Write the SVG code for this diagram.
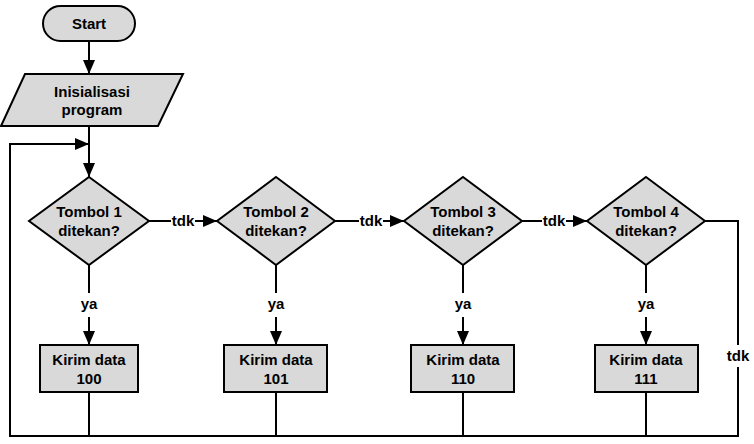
<svg xmlns="http://www.w3.org/2000/svg" width="754" height="444" viewBox="0 0 754 444">
<style>
.s{fill:#d9d9d9;stroke:#000;stroke-width:2}
.c{fill:none;stroke:#000;stroke-width:2}
text{font-family:"Liberation Sans",Arial,sans-serif;font-weight:bold;font-size:15px;fill:#000;text-anchor:middle}
</style>
<defs>
<marker id="a" markerUnits="userSpaceOnUse" markerWidth="14" markerHeight="12" refX="14" refY="6" orient="auto">
<path d="M0,0 L14,6 L0,12 Z" fill="#000"/>
</marker>
</defs>
<rect width="754" height="444" fill="#fff"/>
<g id="connectors">
<path class="c" d="M89,41 V74" marker-end="url(#a)"/>
<path class="c" d="M89,126 V177" marker-end="url(#a)"/>
<path class="c" d="M89,436 H10 V144 H89" marker-end="url(#a)"/>
<path class="c" d="M10,436 H738 V221 H705"/>
<path class="c" d="M148,221 H171"/>
<path class="c" d="M195,221 H217" marker-end="url(#a)"/>
<path class="c" d="M335,221 H359"/>
<path class="c" d="M383,221 H404" marker-end="url(#a)"/>
<path class="c" d="M522,221 H542"/>
<path class="c" d="M566,221 H587" marker-end="url(#a)"/>
<path class="c" d="M89,265 V293"/>
<path class="c" d="M89,317 V345" marker-end="url(#a)"/>
<path class="c" d="M276,265 V293"/>
<path class="c" d="M276,317 V345" marker-end="url(#a)"/>
<path class="c" d="M463,265 V293"/>
<path class="c" d="M463,317 V345" marker-end="url(#a)"/>
<path class="c" d="M646,265 V293"/>
<path class="c" d="M646,317 V345" marker-end="url(#a)"/>
<path class="c" d="M89,392 V436 M276,392 V436 M463,392 V436 M646,392 V436"/>
<rect x="726" y="345" width="24" height="22" fill="#fff"/>
<text x="183" y="226">tdk</text>
<text x="371" y="226">tdk</text>
<text x="554" y="226">tdk</text>
<text x="738" y="361">tdk</text>
<text x="89" y="309">ya</text>
<text x="276" y="309">ya</text>
<text x="463" y="309">ya</text>
<text x="646" y="309">ya</text>
</g>
<g id="start">
<rect class="s" x="43" y="6" width="92" height="35" rx="17.5"/>
<text x="89" y="29">Start</text>
</g>
<g id="init">
<polygon class="s" points="25,74 183,74 158,126 1,126"/>
<text x="92" y="97">Inisialisasi</text>
<text x="92" y="115">program</text>
</g>
<g id="d1">
<polygon class="s" points="89,177 149,221 89,265 29,221"/>
<text x="89" y="217">Tombol 1</text>
<text x="89" y="236">ditekan?</text>
</g>
<g id="d2">
<polygon class="s" points="276,177 335,221 276,265 217,221"/>
<text x="276" y="217">Tombol 2</text>
<text x="276" y="236">ditekan?</text>
</g>
<g id="d3">
<polygon class="s" points="463,177 522,221 463,265 404,221"/>
<text x="463" y="217">Tombol 3</text>
<text x="463" y="236">ditekan?</text>
</g>
<g id="d4">
<polygon class="s" points="646,177 705,221 646,265 587,221"/>
<text x="646" y="217">Tombol 4</text>
<text x="646" y="236">ditekan?</text>
</g>
<g id="b1">
<rect class="s" x="40" y="345" width="98" height="47"/>
<text x="89" y="365">Kirim data</text>
<text x="89" y="384">100</text>
</g>
<g id="b2">
<rect class="s" x="224" y="345" width="103" height="47"/>
<text x="276" y="365">Kirim data</text>
<text x="276" y="384">101</text>
</g>
<g id="b3">
<rect class="s" x="411" y="345" width="103" height="47"/>
<text x="463" y="365">Kirim data</text>
<text x="463" y="384">110</text>
</g>
<g id="b4">
<rect class="s" x="595" y="345" width="103" height="47"/>
<text x="646" y="365">Kirim data</text>
<text x="646" y="384">111</text>
</g>
</svg>
